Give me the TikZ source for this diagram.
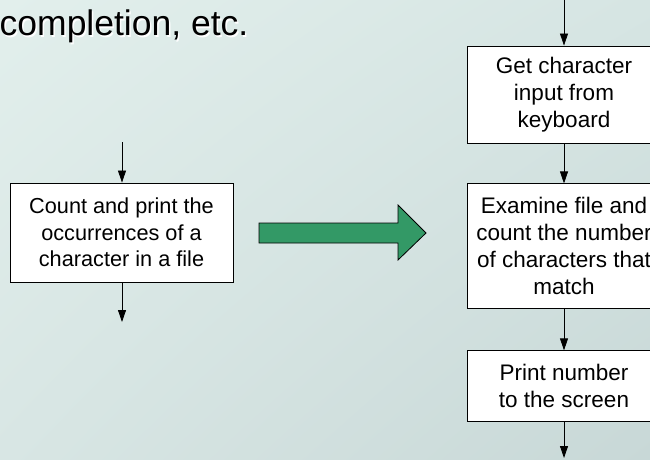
\documentclass[tikz,border=0pt]{standalone}
\usepackage{fontspec}
\setmainfont{Liberation Sans}
\usetikzlibrary{arrows.meta, positioning, shadings}
\definecolor{bgtopleft}{RGB}{226,239,236}
\definecolor{bgtopright}{RGB}{214,229,227}
\definecolor{bgbotleft}{RGB}{216,230,228}
\definecolor{bgbotright}{RGB}{200,216,215}
\definecolor{arrowgreen}{RGB}{51,153,102}
\tikzset{node distance=40pt, auto,
  procbox/.style={draw=black, fill=white, line width=0.9pt, minimum width=194pt,
    align=center, inner sep=0pt, font=\fontsize{22.5}{27}\selectfont},
  flow/.style={-{Triangle[length=12pt,width=8pt]}, line width=0.8pt},
  headtext/.style={anchor=base west, inner sep=0pt, font=\fontsize{35.5}{42}\selectfont}}

\begin{document}
\begin{tikzpicture}[x=1pt, y=1pt]
  \useasboundingbox (0,0) rectangle (650,459);
  \clip (0,0) rectangle (650,459);
%% background
  \shade[upper left=bgtopleft, upper right=bgtopright,
    lower left=bgbotleft, lower right=bgbotright] (0,0) rectangle (650,459);
%% heading line
  \node (headshadow) [headtext, text=white] at (1,421.5) {completion, etc.};
  \node (heading) [headtext] at (-0.5,423) {completion, etc.};
%% first diagram
  \node (count) [procbox, minimum width=223pt, minimum height=99pt,
    font=\fontsize{21.7}{26.5}\selectfont] at (121.5,226.5)
    {Count and print the\\occurrences of a\\character in a file};
  \coordinate (countin) at (122,317);
  \coordinate (countout) at (122,137);
  \draw[flow] (countin) -- (countin |- count.north);
  \draw[flow] (countout |- count.south) -- (countout);
%% big arrow
  \draw[fill=arrowgreen, line width=0.8pt] (259,216) -- (398,216) -- (398,199)
    -- (426,226) -- (398,254) -- (398,236) -- (259,236) -- cycle;
%% second diagram
  \node (getchar) [procbox, minimum height=97pt] at (564,364.5)
    {Get character\\input from\\keyboard};
  \node (examine) [procbox, minimum height=125pt, below=40pt of getchar]
    {Examine file and\\count the number\\of characters that\\match};
  \node (printnum) [procbox, minimum height=71pt, below=41pt of examine]
    {Print number\\to the screen};
  \coordinate (colin) at (564,461);
  \coordinate (colout) at (564,1);
  \draw[flow] (colin) -- (getchar);
  \draw[flow] (getchar) -- (examine);
  \draw[flow] (examine) -- (printnum);
  \draw[flow] (printnum) -- (colout);
\end{tikzpicture}
\end{document}
